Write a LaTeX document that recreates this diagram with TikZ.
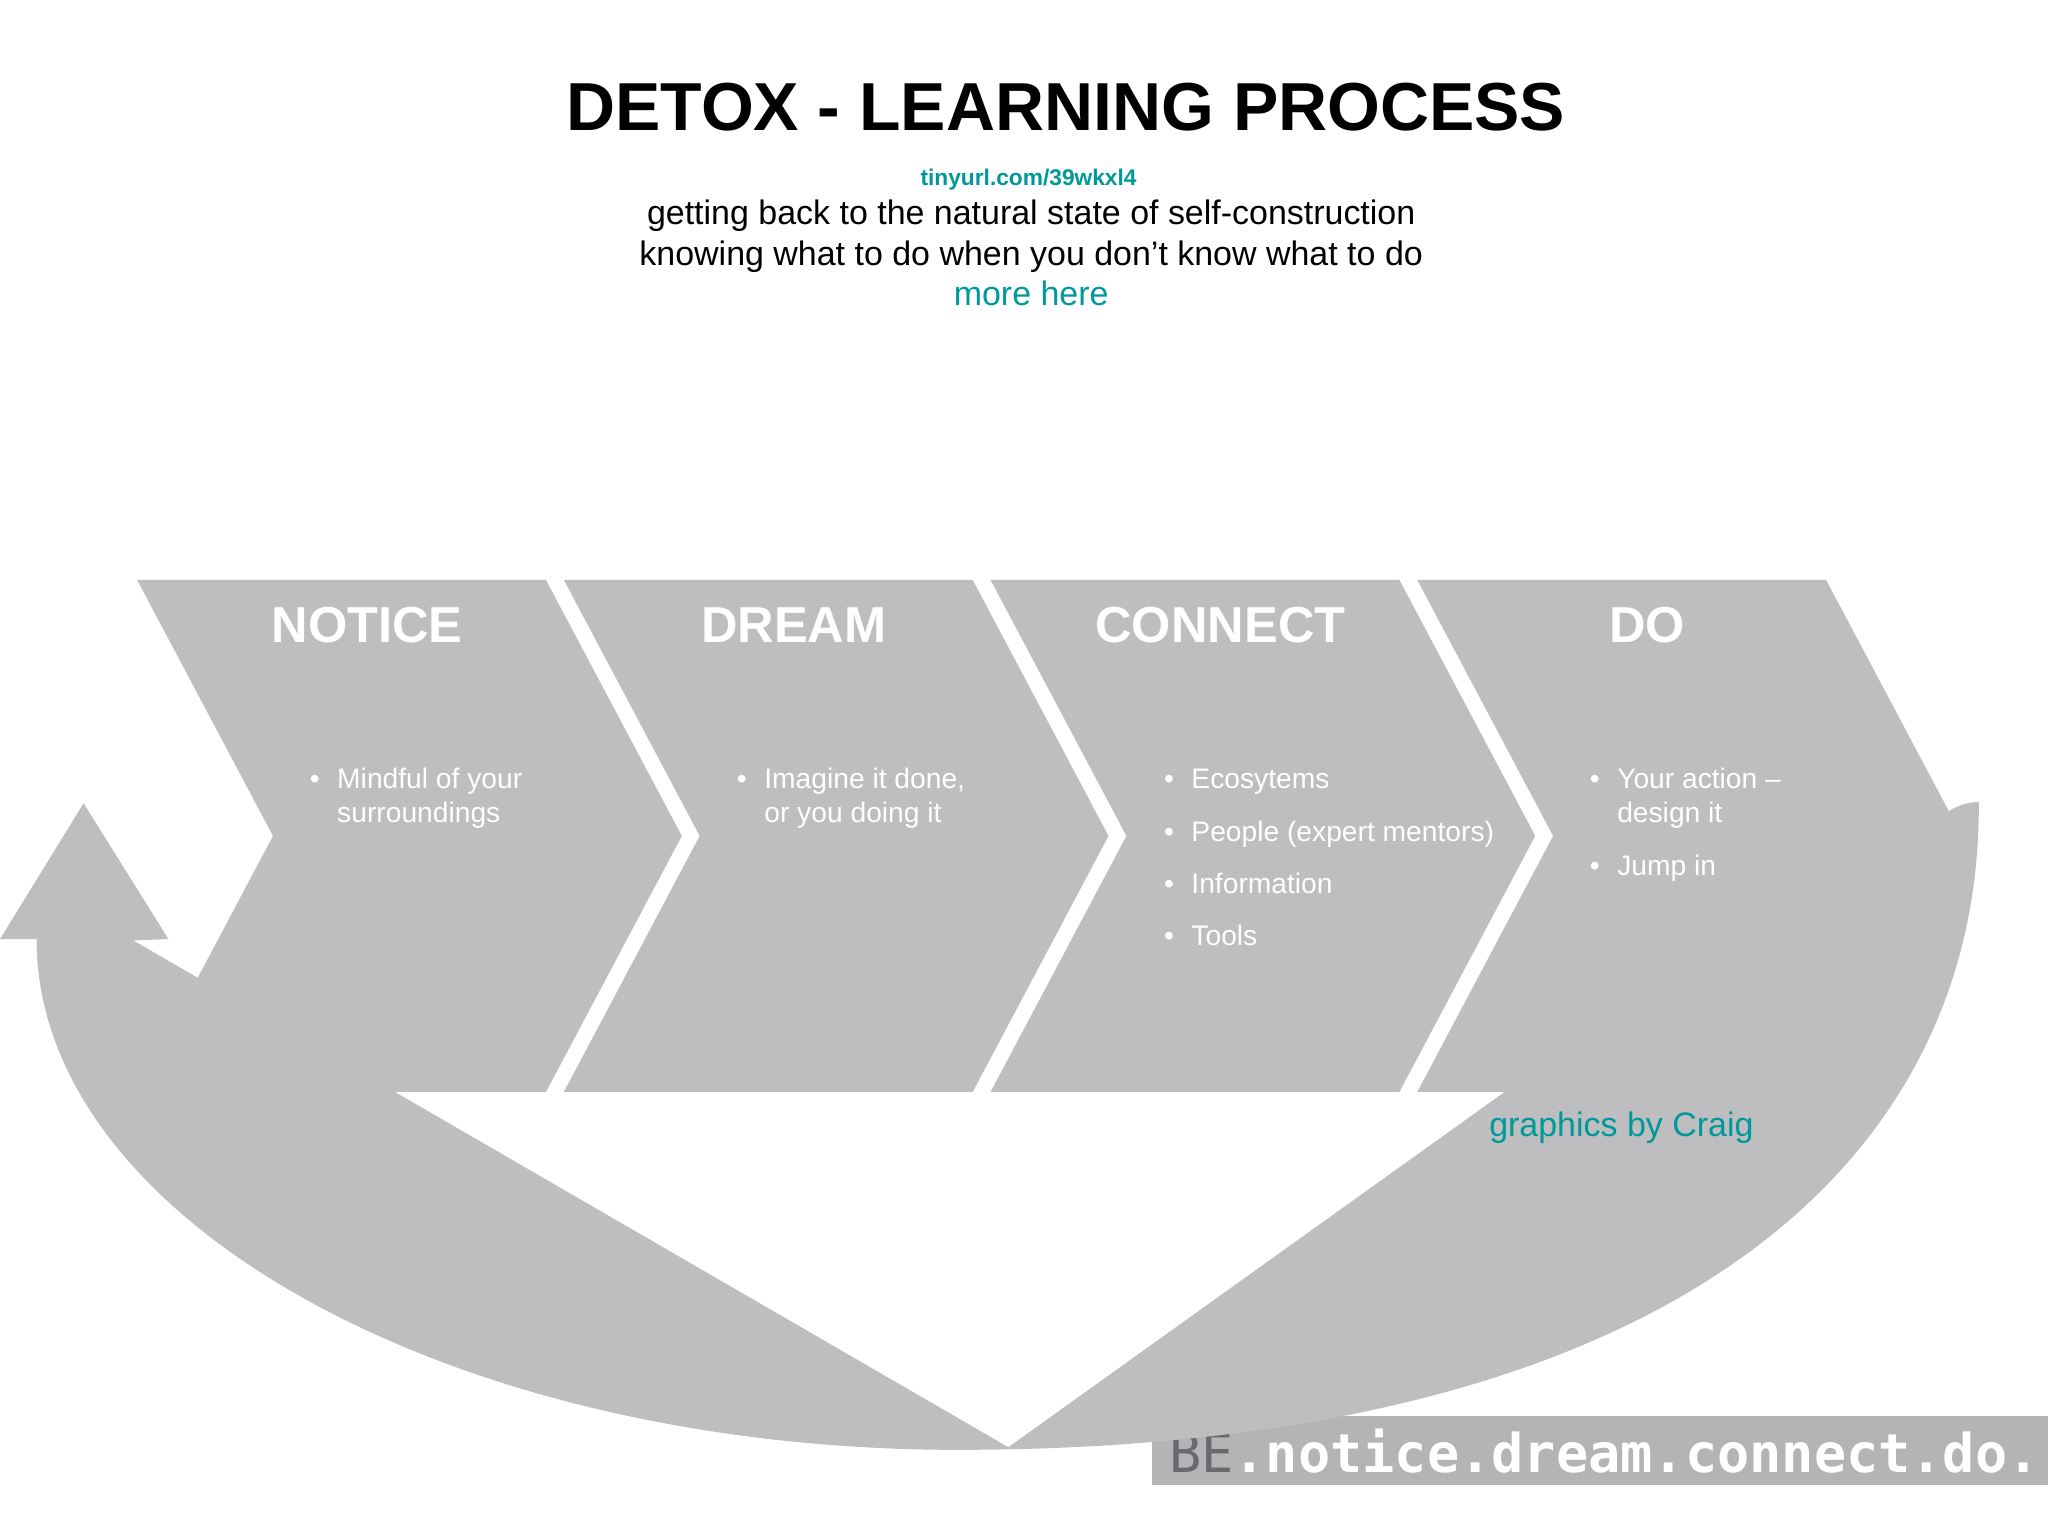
\documentclass[tikz,border=0pt]{standalone}
\usepackage{fontspec}
\setmainfont{Liberation Sans}
\newfontfamily\bemono{DejaVu Sans Mono}
\definecolor{arrowgray}{RGB}{190,190,192}
\definecolor{boxgray}{RGB}{180,180,182}
\definecolor{tealtxt}{RGB}{0,153,153}
\definecolor{begray}{RGB}{105,105,110}
\begin{document}
\begin{tikzpicture}[x=1pt,y=-1pt,
  heading/.style={text=white, font=\fontsize{38.7}{44}\selectfont\bfseries, anchor=base, inner sep=0pt},
  itemtext/.style={text=white, font=\fontsize{21.6}{26}\selectfont, anchor=base west, inner sep=0pt},
  subline/.style={text=black, font=\fontsize{26}{30}\selectfont, anchor=base, inner sep=0pt},
  linktxt/.style={text=tealtxt, inner sep=0pt},
  shapefill/.style={fill=arrowgray}]
\useasboundingbox (0,0) rectangle (1568,1176);
\fill[white] (0,0) rectangle (1568,1176);

% bottom banner
\fill[boxgray] (882,1084) rectangle (1568,1137);
\node[anchor=base west, inner sep=0pt, font=\bemono\fontsize{41}{45}\selectfont] (banner) at (895,1127)
  {\textcolor{begray}{BE}\textcolor{white}{\bfseries.notice.dream.connect.do.}};

% big circular arrow
\fill[shapefill] (28,719) .. controls (28,935) and (347,1112) .. (740,1110)
  .. controls (1280,1108) and (1517,890) .. (1515,614)
  .. controls (1508,614) and (1500,616) .. (1492,621)
  -- (1152,836) -- (772,1108) -- (102,720) -- (129,719) -- (64,615) -- (0,719) -- cycle;

% chevrons
\foreach \i in {0,1,2,3} {
  \pgfmathsetmacro\xl{105+326.7*\i}
  \fill[shapefill] (\xl,444) -- (\xl+313,444) -- (\xl+417,640) -- (\xl+313,836)
    -- (\xl,836) -- (\xl+104,640) -- cycle;
}

% headings
\node[heading] (hnotice) at (281,492) {NOTICE};
\node[heading] (hdream) at (607.7,492) {DREAM};
\node[heading] (hconnect) at (934.4,492) {CONNECT};
\node[heading] (hdo) at (1261,492) {DO};

% bullet items
\node[itemtext] (b1) at (237,604) {•};
\node[itemtext] (t1a) at (258,604) {Mindful of your};
\node[itemtext] (t1b) at (258,630) {surroundings};

\node[itemtext] (b2) at (564,604) {•};
\node[itemtext] (t2a) at (585,604) {Imagine it done,};
\node[itemtext] (t2b) at (585,630) {or you doing it};

\node[itemtext] (b3a) at (891,604) {•};
\node[itemtext] (t3a) at (912,604) {Ecosytems};
\node[itemtext] (b3b) at (891,644) {•};
\node[itemtext] (t3b) at (912,644) {People (expert mentors)};
\node[itemtext] (b3c) at (891,684) {•};
\node[itemtext] (t3c) at (912,684) {Information};
\node[itemtext] (b3d) at (891,724) {•};
\node[itemtext] (t3d) at (912,724) {Tools};

\node[itemtext] (b4a) at (1217,604) {•};
\node[itemtext] (t4a) at (1238,604) {Your action –};
\node[itemtext] (t4b) at (1238,630) {design it};
\node[itemtext] (b4b) at (1217,670) {•};
\node[itemtext] (t4c) at (1238,670) {Jump in};

% title block
\node[anchor=base, inner sep=0pt, font=\fontsize{52}{60}\selectfont\bfseries] (title) at (816,100) {DETOX - LEARNING PROCESS};
\node[linktxt, anchor=base, font=\fontsize{17.4}{20}\selectfont\bfseries] (url) at (787.5,142) {tinyurl.com/39wkxl4};
\node[subline] (sub1) at (789.5,172) {getting back to the natural state of self-construction};
\node[subline] (sub2) at (789.5,203) {knowing what to do when you don’t know what to do};
\node[linktxt, anchor=base, font=\fontsize{26}{30}\selectfont] (more) at (789.5,234) {more here};

\node[linktxt, anchor=base west, font=\fontsize{26}{30}\selectfont] (credit) at (1140,870) {graphics by Craig};
\end{tikzpicture}
\end{document}
